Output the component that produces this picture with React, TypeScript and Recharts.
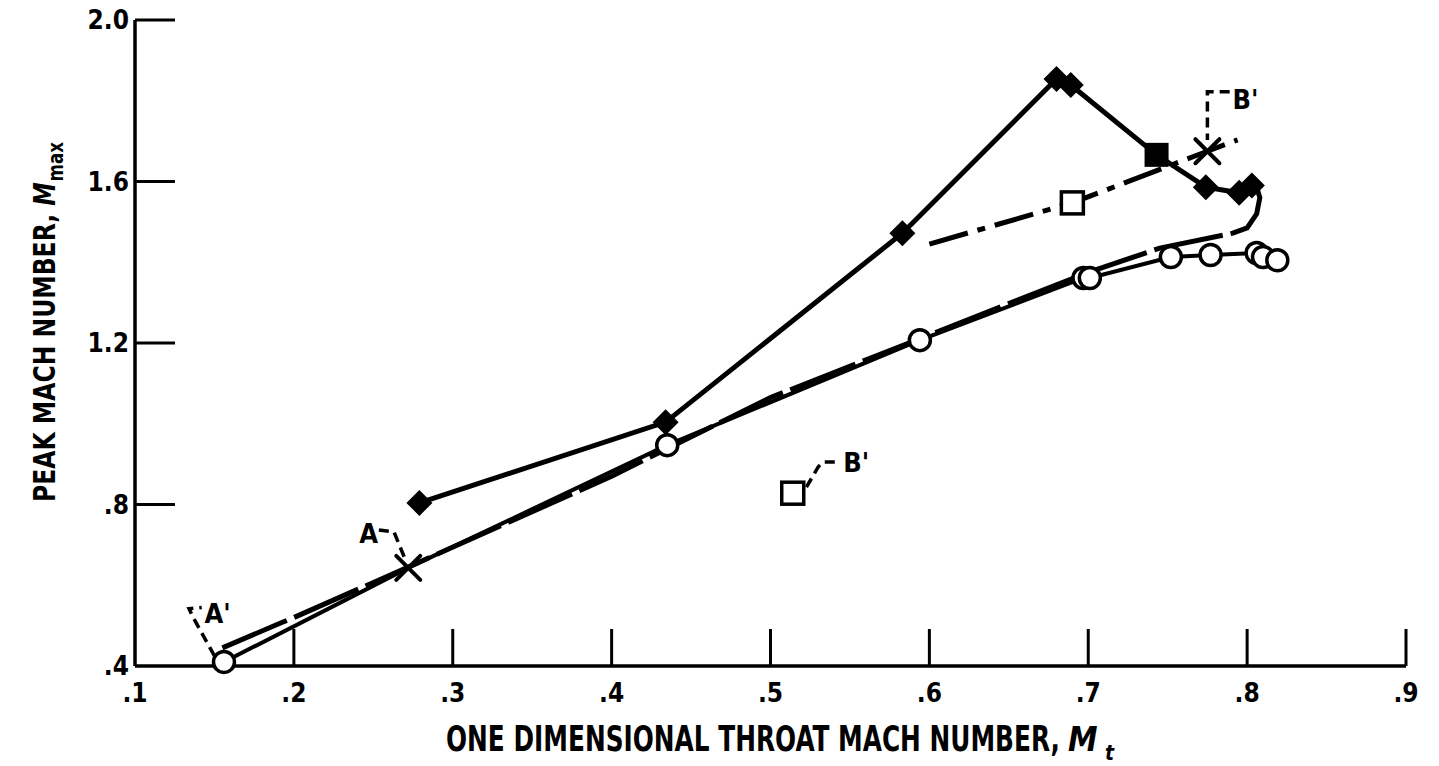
import { ComposedChart, Line, Scatter, XAxis, YAxis } from 'recharts';

// axis ticks
const xTicks = [0.1, 0.2, 0.3, 0.4, 0.5, 0.6, 0.7, 0.8, 0.9];
const xTickLabels = ['.1', '.2', '.3', '.4', '.5', '.6', '.7', '.8', '.9'];
const yTicks = [0.4, 0.8, 1.2, 1.6, 2.0];
const yTickLabels = ['.4', '.8', '1.2', '1.6', '2.0'];

// solid line, filled diamonds (one filled square)
const diamondX = [0.279, 0.434, 0.583, 0.68, 0.689, 0.743, 0.774, 0.795, 0.803];
const diamondY = [0.804, 1.004, 1.472, 1.854, 1.839, 1.666, 1.586, 1.572, 1.59];
const diamondMarks = ['diamond', 'diamond', 'diamond', 'diamond', 'diamond', 'square', 'diamond', 'diamond', 'diamond'];

// solid line, open circles (A on it)
const circleX = [0.156, 0.272, 0.435, 0.594, 0.697, 0.701, 0.752, 0.777, 0.806, 0.81, 0.819];
const circleY = [0.41, 0.643, 0.947, 1.207, 1.361, 1.361, 1.413, 1.418, 1.423, 1.413, 1.405];
const circleMarks = ['circle', 'star', 'circle', 'circle', 'circle', 'circle', 'circle', 'circle', 'circle', 'circle', 'circle'];

// long dash curve
const dashX = [0.155, 0.192, 0.2, 0.272, 0.4, 0.5, 0.6, 0.7, 0.745, 0.791, 0.8, 0.806, 0.808, 0.806];
const dashY = [0.445, 0.507, 0.52, 0.645, 0.87, 1.065, 1.22, 1.375, 1.435, 1.472, 1.485, 1.52, 1.56, 1.586];

// dash-dot line, open square and B'
const dotDashX = [0.6, 0.69, 0.775, 0.794];
const dotDashY = [1.445, 1.547, 1.675, 1.703];
const dotDashMarks = ['none', 'openSquare', 'star', 'none'];

// lone open square
const loneX = [0.514];
const loneY = [0.828];

// annotation labels and leaders
const labelText = ["A'", 'A', "B'", "B'"];
const labelX = [0.152, 0.247, 0.799, 0.554];
const labelY = [0.529, 0.727, 1.804, 0.905];

const leaderAPrimeX = [0.15, 0.1365, 0.134, 0.142];
const leaderAPrimeY = [0.425, 0.521, 0.542, 0.545];
const leaderAX = [0.2535, 0.263, 0.27];
const leaderAY = [0.737, 0.732, 0.665];
const leaderBUpX = [0.789, 0.775, 0.775];
const leaderBUpY = [1.822, 1.822, 1.703];
const leaderBLowX = [0.5226, 0.53, 0.533, 0.543];
const leaderBLowY = [0.843, 0.893, 0.905, 0.905];

const toPoints = (xs: number[], ys: number[], marks?: string[]) =>
  xs.map((x, i) => ({ x, y: ys[i], mark: marks ? marks[i] : 'none' }));

const diamondData = toPoints(diamondX, diamondY, diamondMarks);
const circleData = toPoints(circleX, circleY, circleMarks);
const dashData = toPoints(dashX, dashY);
const dotDashData = toPoints(dotDashX, dotDashY, dotDashMarks);
const loneData = toPoints(loneX, loneY, ['openSquare']);
const labelData = labelText.map((t, i) => ({ x: labelX[i], y: labelY[i], text: t }));
const leaders = [
  toPoints(leaderAPrimeX, leaderAPrimeY),
  toPoints(leaderAX, leaderAY),
  toPoints(leaderBUpX, leaderBUpY),
  toPoints(leaderBLowX, leaderBLowY),
];

const W = 1439;
const H = 766;
const LEFT = 135;
const TOP = 20;
const RIGHT = 1406;
const BOTTOM = 666;
const FONT = "'DejaVu Sans Condensed', 'DejaVu Sans', sans-serif";

function Mark({ cx, cy, kind }: { cx: number; cy: number; kind: string }) {
  if (kind === 'circle') {
    return <circle cx={cx} cy={cy} r={10.5} fill="#fff" stroke="#000" strokeWidth={3.5} />;
  }
  if (kind === 'diamond') {
    const d = 13;
    return (
      <polygon
        points={`${cx},${cy - d} ${cx + d},${cy} ${cx},${cy + d} ${cx - d},${cy}`}
        fill="#000"
      />
    );
  }
  if (kind === 'square') {
    return <rect x={cx - 12} y={cy - 12} width={24} height={24} fill="#000" />;
  }
  if (kind === 'openSquare') {
    return (
      <rect x={cx - 11} y={cy - 11} width={22} height={22} fill="#fff" stroke="#000" strokeWidth={3.5} />
    );
  }
  if (kind === 'star') {
    const s = 12;
    return (
      <g stroke="#000" strokeWidth={4} strokeLinecap="round">
        <line x1={cx - s} y1={cy - s} x2={cx + s} y2={cy + s} />
        <line x1={cx - s} y1={cy + s} x2={cx + s} y2={cy - s} />
      </g>
    );
  }
  return <g />;
}

const renderDot = (p: any) => (
  <Mark key={`m-${p.index}`} cx={p.cx} cy={p.cy} kind={p.payload.mark} />
);

const XTick = ({ x, payload, index }: any) => (
  <g>
    {payload.value > 0.1 && (
      <line x1={x} x2={x} y1={BOTTOM} y2={BOTTOM - 37} stroke="#000" strokeWidth={3} />
    )}
    <text x={x} y={BOTTOM + 36} textAnchor="middle" fontFamily={FONT} fontWeight="bold" fontSize={26} fill="#000">
      {xTickLabels[index]}
    </text>
  </g>
);

const YTick = ({ y, payload, index }: any) => (
  <g>
    {payload.value > 0.4 && (
      <line x1={LEFT} x2={LEFT + 40} y1={y} y2={y} stroke="#000" strokeWidth={3} />
    )}
    <text x={129} y={y + 9} textAnchor="end" fontFamily={FONT} fontWeight="bold" fontSize={26} fill="#000">
      {yTickLabels[index]}
    </text>
  </g>
);

// x title squeezed horizontally like the condensed lettering of the original
const X_SQUEEZE = 0.78;

const XTitle = () => (
  <g fontFamily={FONT} fontWeight="bold" fill="#000">
    <text
      transform={`translate(446, 751) scale(${X_SQUEEZE}, 1)`}
      x={0}
      y={0}
      textLength={614 / X_SQUEEZE}
      lengthAdjust="spacingAndGlyphs"
      fontSize={35}
    >
      ONE DIMENSIONAL THROAT MACH NUMBER,
    </text>
    <text x={1068} y={751} fontSize={33} fontStyle="italic">
      M
    </text>
    <text x={1105} y={760} fontSize={21} fontStyle="italic">
      t
    </text>
  </g>
);

const YTitle = () => (
  <text
    x={55}
    y={322}
    transform="rotate(-90, 55, 322)"
    textAnchor="middle"
    textLength={360}
    lengthAdjust="spacingAndGlyphs"
    fontFamily={FONT}
    fontWeight="bold"
    fontSize={31}
    fill="#000"
  >
    PEAK MACH NUMBER, <tspan fontStyle="italic">M</tspan>
    <tspan fontSize={22} dy={8} dx={1}>max</tspan>
  </text>
);

const LabelShape = (p: any) => (
  <text
    x={p.cx}
    y={p.cy}
    textAnchor="middle"
    dominantBaseline="central"
    fontFamily={FONT}
    fontWeight="bold"
    fontSize={27}
    fill="#000"
  >
    {p.payload.text}
  </text>
);

export default function App() {
  return (
    <div style={{ position: 'absolute', left: 0, top: 0, background: '#fff' }}>
      <ComposedChart
        width={W}
        height={H}
        margin={{ top: TOP, right: W - RIGHT, bottom: H - BOTTOM - 30, left: LEFT - 60 }}
      >
        <XAxis
          type="number"
          dataKey="x"
          domain={[0.1, 0.9]}
          ticks={xTicks}
          height={30}
          tickLine={false}
          axisLine={{ stroke: '#000', strokeWidth: 3.5 }}
          tick={<XTick />}
          interval={0}
          label={{ content: <XTitle /> }}
        />
        <YAxis
          type="number"
          dataKey="y"
          domain={[0.4, 2.0]}
          ticks={yTicks}
          width={60}
          tickLine={false}
          axisLine={{ stroke: '#000', strokeWidth: 3.5 }}
          tick={<YTick />}
          interval={0}
          label={{ content: <YTitle /> }}
        />
        <Line
          data={dashData}
          dataKey="y"
          type="linear"
          stroke="#000"
          strokeWidth={5}
          strokeDasharray="70 8"
          dot={false}
          isAnimationActive={false}
        />
        <Line
          data={circleData}
          dataKey="y"
          type="linear"
          stroke="#000"
          strokeWidth={4}
          dot={renderDot}
          isAnimationActive={false}
        />
        <Line
          data={dotDashData}
          dataKey="y"
          type="linear"
          stroke="#000"
          strokeWidth={5}
          strokeDasharray="40 10 8 10"
          dot={renderDot}
          isAnimationActive={false}
        />
        <Line
          data={diamondData}
          dataKey="y"
          type="linear"
          stroke="#000"
          strokeWidth={5}
          dot={renderDot}
          isAnimationActive={false}
        />
        {leaders.map((d, i) => (
          <Line
            key={`leader-${i}`}
            data={d}
            dataKey="y"
            type="linear"
            stroke="#000"
            strokeWidth={3.5}
            strokeDasharray="10 6"
            dot={false}
            isAnimationActive={false}
          />
        ))}
        <Scatter data={loneData} dataKey="y" shape={(p: any) => <Mark cx={p.cx} cy={p.cy} kind="openSquare" />} isAnimationActive={false} />
        <Scatter data={labelData} dataKey="y" shape={LabelShape} isAnimationActive={false} />
      </ComposedChart>
    </div>
  );
}
